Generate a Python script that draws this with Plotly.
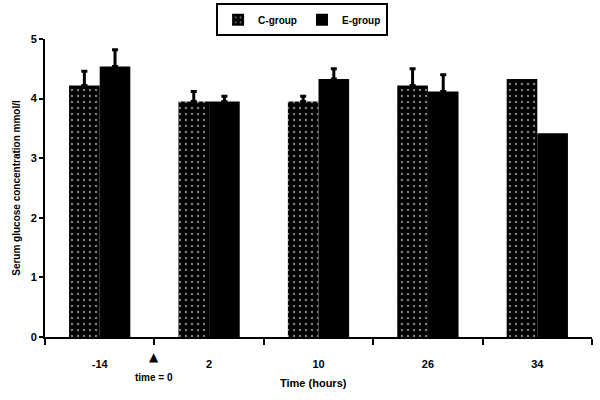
import plotly.graph_objects as go

categories = ["-14", "2", "10", "26", "34"]
c_values = [4.22, 3.95, 3.95, 4.22, 4.33]
c_err = [0.24, 0.17, 0.09, 0.28, None]
e_values = [4.54, 3.95, 4.33, 4.12, 3.42]
e_err = [0.28, 0.09, 0.17, 0.28, None]
y_ticks = [0, 1, 2, 3, 4, 5]

FAM = "Liberation Sans, Arial, sans-serif"
font = dict(family=FAM, size=10, color="black")


def plus(err):
    # "NaN" makes plotly.js skip the error bar (no stray cap) for missing values
    return ["NaN" if v is None else v for v in err]


def minus(err):
    return ["NaN" if v is None else 0 for v in err]


fig = go.Figure()
fig.add_trace(go.Bar(
    name="<b>C-group</b>", x=categories, y=c_values,
    marker=dict(color="black", line=dict(width=0),
                pattern=dict(shape=".", fgcolor="white", bgcolor="black", size=6, solidity=0.12)),
    error_y=dict(type="data", symmetric=False, array=plus(c_err), arrayminus=minus(c_err),
                 color="black", thickness=3, width=3),
))
fig.add_trace(go.Bar(
    name="<b>E-group</b>", x=categories, y=e_values,
    marker=dict(color="black", line=dict(width=0)),
    error_y=dict(type="data", symmetric=False, array=plus(e_err), arrayminus=minus(e_err),
                 color="black", thickness=3, width=3),
))

fig.update_layout(
    width=600, height=400,
    margin=dict(l=45, r=8, t=39, b=63, autoexpand=False),
    plot_bgcolor="white", paper_bgcolor="white",
    barmode="group", bargap=0.44, bargroupgap=0,
    font=font,
    showlegend=True,
    legend=dict(orientation="h", x=0.47, xanchor="center", y=1.12, yanchor="top",
                bordercolor="black", borderwidth=2, font=dict(family=FAM, size=10),
                itemwidth=30, tracegroupgap=0),
    xaxis=dict(
        type="category", range=[-0.5, 4.5], tickson="boundaries",
        ticks="outside", ticklen=6, tickwidth=2, tickcolor="black",
        showline=True, linecolor="black", linewidth=2, showgrid=False,
        tickfont=dict(family=FAM, size=11),
        ticklabelstandoff=16,
        tickvals=categories, ticktext=["<b>" + c + "</b>" for c in categories],
    ),
    yaxis=dict(
        range=[0, 5], ticks="outside", ticklen=4, tickwidth=2, tickcolor="black",
        showline=True, linecolor="black", linewidth=2, showgrid=False, zeroline=False,
        title=dict(text="<b>Serum glucose concentration mmol/l</b>", font=dict(family=FAM, size=10),
                   standoff=8),
        tickfont=dict(family=FAM, size=11),
        tickvals=y_ticks, ticktext=["<b>%d</b>" % v for v in y_ticks],
    ),
)

fig.add_annotation(x=0.5, xref="x", y=-0.036, yref="paper", text="▲", showarrow=False,
                   font=dict(family="DejaVu Sans", size=12), yanchor="top")
fig.add_annotation(x=0.5, xref="x", y=-0.11, yref="paper", text="<b>time = 0</b>", showarrow=False,
                   font=dict(family=FAM, size=10), yanchor="top")
fig.add_annotation(x=0.49, xref="paper", y=-0.154, yref="paper", text="<b>Time (hours)</b>",
                   showarrow=False, font=dict(family=FAM, size=11), yanchor="middle")

fig.write_html("out.html", config={"displayModeBar": False},
               post_script="document.body.style.margin='0';")
